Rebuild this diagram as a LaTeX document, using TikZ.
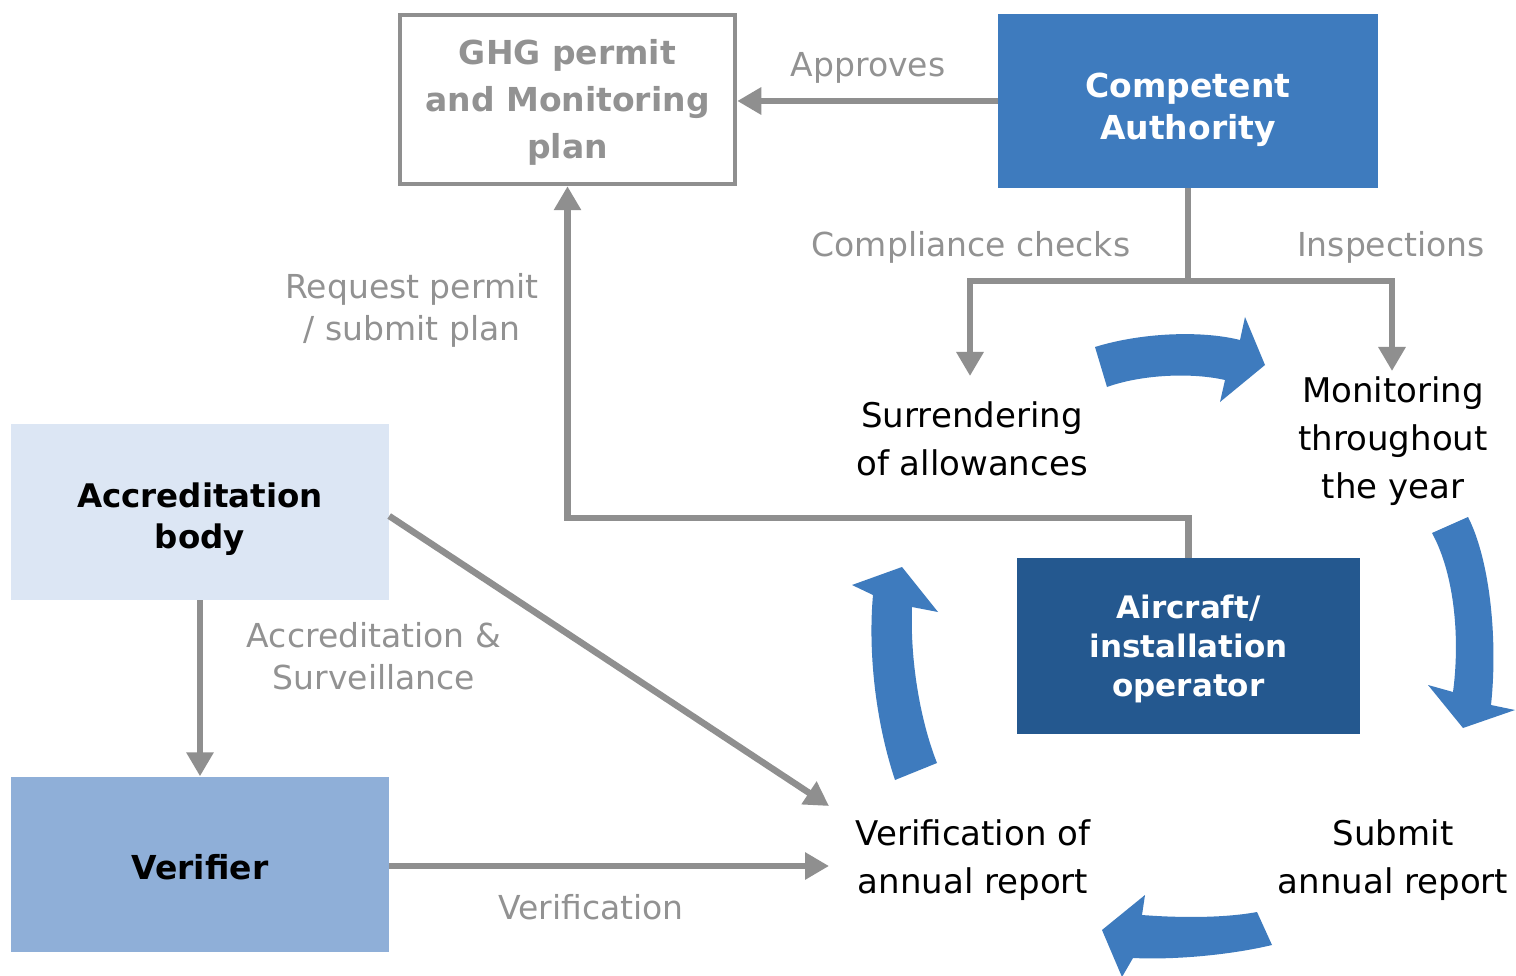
\documentclass[tikz,border=0pt]{standalone}
\usepackage{fontspec}
\setmainfont{DejaVu Sans}
\usetikzlibrary{arrows.meta}
\definecolor{lineg}{HTML}{8F8F8F}
\definecolor{textg}{HTML}{929292}
\definecolor{cablue}{HTML}{3E7BBE}
\definecolor{opblue}{HTML}{24588F}
\definecolor{ablight}{HTML}{DCE6F4}
\definecolor{verblue}{HTML}{8FAFD8}
\tikzset{
  conn/.style={draw=lineg, line width=6.5pt, -{Triangle[width=26pt,length=24pt]}},
  plainconn/.style={draw=lineg, line width=6.5pt},
  glabel/.style={text=textg, font=\fontsize{33}{42}\selectfont, align=center, inner sep=0pt},
  blabel/.style={text=black, font=\fontsize{34}{48}\selectfont, align=center, inner sep=0pt},
  boxnode/.style={inner sep=0pt},
  boxtext/.style={inner sep=0pt, align=center},
  blockarrow/.style={fill=cablue}
}
\begin{document}
\begin{tikzpicture}[x=1pt,y=-1pt]
\useasboundingbox (0,0) rectangle (1516,976);
\fill[white] (0,0) rectangle (1516,976);

% boxes
\node[boxnode, draw=lineg, line width=4.5pt, minimum width=335pt, minimum height=169pt] (ghg) at (567.5,99.5) {};
\node[boxtext, text=textg, font=\bfseries\fontsize{33}{47}\selectfont] (ghgtext) at ([yshift=-3pt]ghg.center)
  {GHG permit\\and Monitoring\\plan};
\node[boxnode, fill=cablue, minimum width=380pt, minimum height=174pt] (ca) at (1188,101) {};
\node[boxtext, text=white, font=\bfseries\fontsize{33}{42}\selectfont] (catext) at ([yshift=-9pt]ca.center)
  {Competent\\Authority};
\node[boxnode, fill=ablight, minimum width=378pt, minimum height=176pt] (ab) at (200,512) {};
\node[boxtext, text=black, font=\bfseries\fontsize{32.5}{41}\selectfont] (abtext) at ([yshift=-7pt]ab.center)
  {Accreditation\\body};
\node[boxnode, fill=verblue, minimum width=378pt, minimum height=175pt] (ver) at (200,864) {};
\node[boxtext, text=black, font=\bfseries\fontsize{33}{42}\selectfont] (vertext) at ([yshift=-3pt]ver.center)
  {Verifier};
\node[boxnode, fill=opblue, minimum width=343pt, minimum height=176pt] (op) at (1188.5,646) {};
\node[boxtext, text=white, font=\bfseries\fontsize{31}{39}\selectfont] (optext) at ([yshift=-3pt]op.center)
  {Aircraft/\\installation\\operator};

% labels
\node[glabel] (approves) at (868,68) {Approves};
\node[glabel] (compl) at (971,247) {Compliance checks};
\node[glabel] (insp) at (1391,247) {Inspections};
\node[glabel] (req) at (412,310) {Request permit\\/ submit plan};
\node[glabel] (accsurv) at (374,656) {Accreditation \&\\Surveillance};
\node[glabel] (veriflab) at (591,907) {Verification};

\node[blabel] (surr) at (972,439) {Surrendering\\of allowances};
\node[blabel] (monit) at (1393,441) {Monitoring\\throughout\\the year};
\node[blabel] (verann) at (973,860) {Verification of\\annual report};
\node[blabel] (submit) at (1393,860) {Submit\\annual report};

% connector coordinates
\coordinate (junc) at (1188,281);
\coordinate (surrtip) at (970,376);
\coordinate (monittip) at (1392,371);
\coordinate (diagtip) at (829,806);
\coordinate (vertip) at (829,866);

% connectors
\draw[conn] (ca.west) -- (ca.west -| ghg.east);
\draw[plainconn] (ca.south) -- (junc);
\draw[conn, {Triangle[width=26pt,length=24pt]}-{Triangle[width=26pt,length=24pt]}]
  (surrtip) -- (surrtip |- junc) -- (monittip |- junc) -- (monittip);
\draw[conn] (op.north) -- ++(0,-40) -| (ghg.south);
\draw[conn] (ab.south) -- (ver.north);
\draw[conn] (ab.east) ++(0,4) -- (diagtip);
\draw[conn] (ver.east) ++(0,2) -- (vertip);

% blue curved block arrows
\fill[blockarrow] (1095,347) .. controls (1140,333) and (1200,330) .. (1240,340)
  -- (1245,317) -- (1265,365) -- (1220,402) -- (1225,380)
  .. controls (1190,372) and (1140,375) .. (1107,387) -- cycle;
\fill[blockarrow] (1432,533) -- (1468,517) .. controls (1490,560) and (1498,640) .. (1491,705)
  -- (1515,710) -- (1463,728) -- (1428,685) -- (1453,692)
  .. controls (1460,640) and (1455,575) .. (1432,533) -- cycle;
\fill[blockarrow] (1257,912) -- (1272,945) .. controls (1230,955) and (1175,960) .. (1133,958)
  -- (1122,977) -- (1102,930) -- (1145,895) -- (1142,915)
  .. controls (1180,918) and (1225,918) .. (1257,912) -- cycle;
\fill[blockarrow] (895,780) .. controls (875,720) and (868,650) .. (873,595)
  -- (852,585) -- (902,567) -- (938,612) -- (912,607)
  .. controls (910,660) and (920,720) .. (937,763) -- cycle;
\end{tikzpicture}
\end{document}
